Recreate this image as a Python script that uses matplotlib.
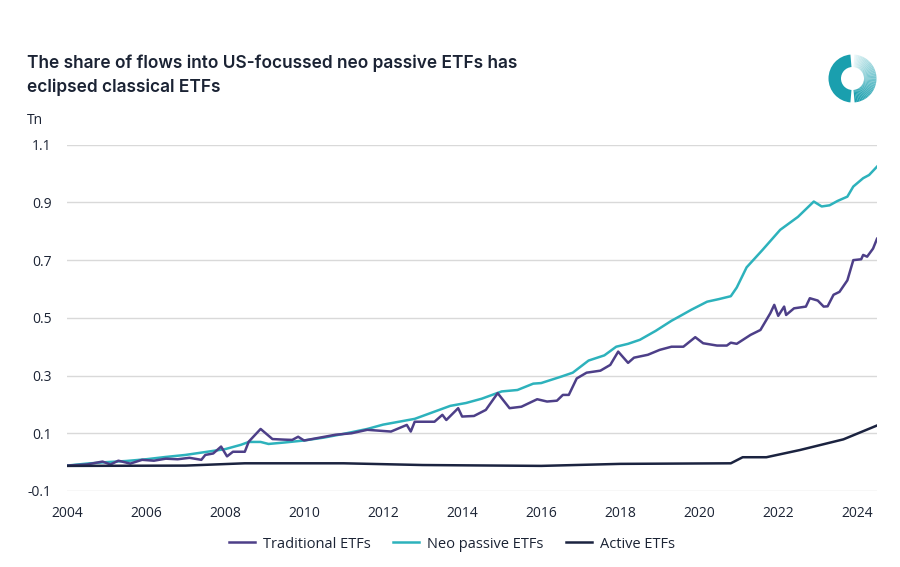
import numpy as np
import matplotlib
matplotlib.use("Agg")
import matplotlib.pyplot as plt
from matplotlib.patches import Wedge

# ---------------- data ----------------
neo_x = [2004.0, 2004.5, 2005.0, 2005.5, 2006.0, 2006.5, 2007.0, 2007.5, 2008.0, 2008.4,
         2008.6, 2008.9, 2009.1, 2009.5, 2010.0, 2010.5, 2011.0, 2011.6, 2012.0, 2012.4,
         2012.8, 2013.3, 2013.7, 2014.1, 2014.5, 2015.0, 2015.4, 2015.8, 2016.0, 2016.5,
         2016.8, 2017.2, 2017.6, 2017.9, 2018.2, 2018.5, 2018.9, 2019.3, 2019.5, 2019.8,
         2020.2, 2020.5, 2020.8, 2020.95, 2021.2, 2021.6, 2022.05, 2022.5, 2022.9, 2023.1,
         2023.3, 2023.5, 2023.75, 2023.9, 2024.15, 2024.3, 2024.5]
neo_y = [-0.012, -0.005, 0.0, 0.004, 0.01, 0.018, 0.025, 0.035, 0.045, 0.06,
         0.07, 0.07, 0.063, 0.068, 0.075, 0.085, 0.098, 0.115, 0.13, 0.14,
         0.15, 0.175, 0.195, 0.205, 0.22, 0.245, 0.25, 0.272, 0.274, 0.296,
         0.31, 0.352, 0.37, 0.40, 0.41, 0.424, 0.455, 0.49, 0.505, 0.528,
         0.556, 0.565, 0.575, 0.605, 0.675, 0.735, 0.805, 0.85, 0.903, 0.886,
         0.89, 0.905, 0.92, 0.955, 0.984, 0.995, 1.024]

trad_x = [2004.0, 2004.5, 2004.9, 2005.1, 2005.3, 2005.6, 2005.9, 2006.2, 2006.5, 2006.8,
          2007.1, 2007.4, 2007.5, 2007.7, 2007.9, 2008.05, 2008.2, 2008.5, 2008.6, 2008.9,
          2009.2, 2009.5, 2009.7, 2009.85, 2010.0, 2010.4, 2010.8, 2011.2, 2011.6, 2012.2,
          2012.6, 2012.7, 2012.8, 2013.3, 2013.5, 2013.6, 2013.9, 2014.0, 2014.3, 2014.6,
          2014.9, 2015.2, 2015.5, 2015.9, 2016.15, 2016.4, 2016.55, 2016.7, 2016.9, 2017.15,
          2017.5, 2017.75, 2017.95, 2018.2, 2018.35, 2018.7, 2019.0, 2019.3, 2019.6, 2019.9,
          2020.1, 2020.45, 2020.7, 2020.8, 2020.95, 2021.3, 2021.55, 2021.8, 2021.9, 2022.0,
          2022.15, 2022.2, 2022.4, 2022.7, 2022.8, 2023.0, 2023.15, 2023.25, 2023.4, 2023.55,
          2023.75, 2023.9, 2024.1, 2024.15, 2024.25, 2024.4, 2024.5]
trad_y = [-0.012, -0.008, 0.002, -0.008, 0.005, -0.005, 0.008, 0.005, 0.012, 0.01,
          0.015, 0.008, 0.025, 0.03, 0.054, 0.02, 0.036, 0.036, 0.071, 0.115,
          0.08, 0.078, 0.077, 0.088, 0.075, 0.085, 0.095, 0.1, 0.112, 0.106,
          0.129, 0.106, 0.14, 0.14, 0.164, 0.146, 0.187, 0.158, 0.16, 0.181,
          0.239, 0.187, 0.192, 0.218, 0.21, 0.213, 0.233, 0.233, 0.29, 0.31,
          0.317, 0.337, 0.383, 0.344, 0.362, 0.372, 0.389, 0.40, 0.40, 0.433,
          0.412, 0.404, 0.404, 0.414, 0.41, 0.441, 0.458, 0.516, 0.545, 0.507,
          0.539, 0.51, 0.533, 0.539, 0.568, 0.56, 0.539, 0.54, 0.58, 0.59,
          0.63, 0.70, 0.703, 0.718, 0.712, 0.74, 0.774]

act_x = [2004.0, 2007.0, 2008.5, 2011.0, 2013.0, 2016.0, 2018.0, 2020.8, 2021.1, 2021.7,
         2022.55, 2023.65, 2024.5]
act_y = [-0.013, -0.012, -0.004, -0.004, -0.01, -0.013, -0.006, -0.004, 0.017, 0.017,
         0.042, 0.079, 0.127]

series_names = ["Traditional ETFs", "Neo passive ETFs", "Active ETFs"]
y_ticks = [-0.1, 0.1, 0.3, 0.5, 0.7, 0.9, 1.1]
y_tick_labels = ["-0.1", "0.1", "0.3", "0.5", "0.7", "0.9", "1.1"]
x_ticks = [2004, 2006, 2008, 2010, 2012, 2014, 2016, 2018, 2020, 2022, 2024]

title_lines = ["The share of flows into US-focussed neo passive ETFs has",
               "eclipsed classical ETFs"]
unit_label = "Tn"

# ---------------- style ----------------
C_TRAD = "#4d3f88"
C_NEO = "#2db2bc"
C_ACT = "#1b2340"
C_TEXT = "#1b2334"
C_GRID = "#d9d9d9"
FONT = ["Open Sans", "DejaVu Sans"]
TFONT = ["Inter", "DejaVu Sans"]

W, H = 900, 567
fig = plt.figure(figsize=(9, 5.67), dpi=100)
fig.patch.set_facecolor("white")

ax = fig.add_axes([67 / W, (H - 491) / H, (877 - 67) / W, (491 - 144.7) / H])
ax.set_xlim(2004.0, 2024.5)
ax.set_ylim(-0.1, 1.1)

ax.plot(trad_x, trad_y, color=C_TRAD, lw=1.8, label=series_names[0], zorder=3)
ax.plot(neo_x, neo_y, color=C_NEO, lw=1.8, label=series_names[1], zorder=2)
ax.plot(act_x, act_y, color=C_ACT, lw=1.8, label=series_names[2], zorder=4)

ax.set_yticks(y_ticks)
ax.set_yticklabels(y_tick_labels)
ax.set_xticks(x_ticks)
ax.set_xticklabels([str(t) for t in x_ticks])
ax.grid(axis="y", color=C_GRID, lw=1.0, zorder=0)
ax.set_axisbelow(True)
for s in ax.spines.values():
    s.set_visible(False)
ax.tick_params(axis="both", length=0, labelsize=10, labelcolor=C_TEXT)
ax.tick_params(axis="y", pad=11)
ax.tick_params(axis="x", pad=11)
for lab in ax.get_xticklabels() + ax.get_yticklabels():
    lab.set_family(FONT)

# title (fit first line to the reference width)
t1 = fig.text(27 / W, 1 - 68 / H, title_lines[0], fontsize=12.5, fontweight="semibold",
              family=TFONT, color=C_TEXT, va="baseline", ha="left")
t2 = fig.text(27 / W, 1 - 92 / H, title_lines[1], fontsize=12.5, fontweight="semibold",
              family=TFONT, color=C_TEXT, va="baseline", ha="left")
fig.canvas.draw()
wpx = t1.get_window_extent().width
fs = 12.5 * 492.0 / wpx
t1.set_fontsize(fs)
t2.set_fontsize(fs)

fig.text(27 / W, 1 - 124 / H, unit_label, fontsize=10, family=FONT, color=C_TEXT,
         va="baseline", ha="left")

# legend
leg = fig.legend(loc="center", bbox_to_anchor=(452 / W, 1 - 544 / H), ncol=3, frameon=False,
                 handlelength=1.8, handletextpad=0.55, columnspacing=1.5,
                 prop={"family": FONT, "size": 10.5})
for t in leg.get_texts():
    t.set_color(C_TEXT)

# logo
cx, cy = 852.5, 78.5
lax = fig.add_axes([(cx - 27) / W, (H - cy - 27) / H, 54 / W, 54 / H])
lax.set_xlim(-27, 27)
lax.set_ylim(-27, 27)
lax.set_aspect("equal")
lax.axis("off")
R, w = 24, 12.5
lax.add_patch(Wedge((0, 0), R, 95, 265, width=w, facecolor="#1a9fae", edgecolor="none"))
n = 40
start, end = 85, -85
teal = np.array([0x1a, 0x9f, 0xae]) / 255
light = np.array([0xee, 0xf9, 0xfa]) / 255
for i in range(n):
    a1 = start + (end - start) * i / n
    a2 = start + (end - start) * (i + 1) / n
    f = ((i + 0.5) / n) ** 0.8
    col = light * (1 - f) + teal * f
    lax.add_patch(Wedge((0, 0), R, a2, a1 + 0.3, width=w, facecolor=col, edgecolor="none"))

fig.savefig("out.png", dpi=100, facecolor="white")
